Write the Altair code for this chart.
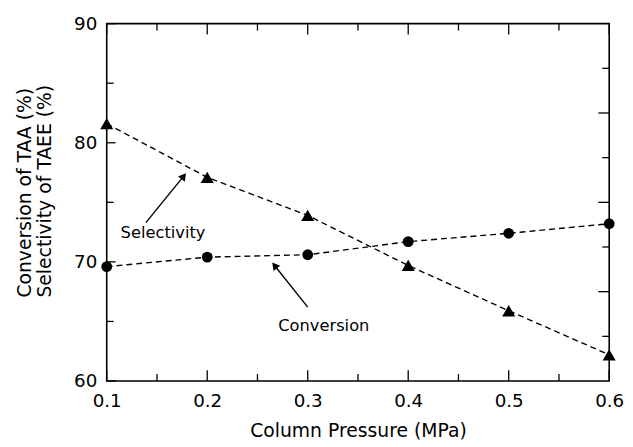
import altair as alt
import pandas as pd

pressure = [0.1, 0.2, 0.3, 0.4, 0.5, 0.6]
selectivity = [81.6, 77.1, 73.9, 69.7, 65.9, 62.2]
conversion = [69.6, 70.4, 70.6, 71.7, 72.4, 73.2]

x_major = [0.1, 0.2, 0.3, 0.4, 0.5, 0.6]
x_minor = [0.15, 0.25, 0.35, 0.45, 0.55]
y_major = [60, 70, 80, 90]
y_minor = [65, 75, 85]
r_major = [67.5, 75, 82.5]
r_minor = [63.75, 71.25, 78.75, 86.25]

ann_text = ["Selectivity", "Conversion"]
ann_tx = [0.156, 0.316]
ann_ty = [72.4, 64.6]
arr_x0 = [0.139, 0.300]
arr_y0 = [73.3, 66.2]
arr_x1 = [0.1766, 0.267]
arr_y1 = [77.2, 69.7]
arr_angle = [38, 321]

FONT = "DejaVu Sans"
W, H = 509, 362

xs = alt.Scale(domain=[0.1, 0.6], nice=False)
ys = alt.Scale(domain=[60, 90], nice=False)

df = pd.DataFrame({"p": pressure, "sel": selectivity, "conv": conversion})

base = alt.Chart(df)

xaxis = alt.Axis(values=x_major, format=".1f", tickSize=0, labelFontSize=18.5,
                 labelFont=FONT, labelColor="black", labelPadding=11,
                 title="Column Pressure (MPa)", titleFont=FONT, titleFontSize=19,
                 titleFontWeight="normal", titleColor="black", titlePadding=12,
                 grid=False, domain=False, labelFlush=False)
yaxis = alt.Axis(values=y_major, tickSize=0, labelFontSize=18.5, labelFont=FONT,
                 labelColor="black", labelPadding=10,
                 title=["Conversion of TAA (%)", "Selectivity of TAEE (%)"],
                 titleFont=FONT, titleFontSize=19, titleFontWeight="normal",
                 titleColor="black", titleAngle=-90, titleAlign="left",
                 titleBaseline="middle", titleX=-83, titleY=277, titleLineHeight=20,
                 grid=False, domain=False, labelFlush=False)

sel_line = base.mark_line(color="black", strokeDash=[6, 4], strokeWidth=1.4, clip=False).encode(
    x=alt.X("p:Q", scale=xs, axis=xaxis),
    y=alt.Y("sel:Q", scale=ys, axis=yaxis),
)
conv_line = base.mark_line(color="black", strokeDash=[6, 4], strokeWidth=1.4, clip=False).encode(
    x=alt.X("p:Q", scale=xs), y=alt.Y("conv:Q", scale=ys))
sel_pts = base.mark_point(shape="triangle-up", filled=True, color="black", opacity=1,
                          size=175, clip=False).encode(
    x=alt.X("p:Q", scale=xs), y=alt.Y("sel:Q", scale=ys))
conv_pts = base.mark_point(shape="circle", filled=True, color="black", opacity=1,
                           size=120, clip=False).encode(
    x=alt.X("p:Q", scale=xs), y=alt.Y("conv:Q", scale=ys))

# ticks (inward)
def xticks(vals, length, top):
    d = pd.DataFrame({"v": vals})
    if top:
        return alt.Chart(d).mark_rule(color="black", strokeWidth=1.3).encode(
            x=alt.X("v:Q", scale=xs), y=alt.value(0), y2=alt.value(length))
    return alt.Chart(d).mark_rule(color="black", strokeWidth=1.3).encode(
        x=alt.X("v:Q", scale=xs), y=alt.value(H), y2=alt.value(H - length))

def yticks(vals, length, right):
    d = pd.DataFrame({"v": vals})
    if right:
        return alt.Chart(d).mark_rule(color="black", strokeWidth=1.3).encode(
            y=alt.Y("v:Q", scale=ys), x=alt.value(W), x2=alt.value(W - length))
    return alt.Chart(d).mark_rule(color="black", strokeWidth=1.3).encode(
        y=alt.Y("v:Q", scale=ys), x=alt.value(0), x2=alt.value(length))

ticks = [
    xticks(x_major, 11, False), xticks(x_minor, 7, False),
    xticks(x_major, 11, True), xticks(x_minor, 7, True),
    yticks(y_major, 9, False), yticks(y_minor, 7, False),
    yticks(r_major, 11, True), yticks(r_minor, 7, True),
]

ann = pd.DataFrame({"t": ann_text, "tx": ann_tx, "ty": ann_ty,
                    "x0": arr_x0, "y0": arr_y0, "x1": arr_x1, "y1": arr_y1,
                    "a": arr_angle})
ann_lbl = alt.Chart(ann).mark_text(font=FONT, fontSize=16.5, color="black",
                                   align="center", baseline="middle").encode(
    x=alt.X("tx:Q", scale=xs), y=alt.Y("ty:Q", scale=ys), text="t:N")
arrows = alt.Chart(ann).mark_rule(color="black", strokeWidth=1.4).encode(
    x=alt.X("x0:Q", scale=xs), y=alt.Y("y0:Q", scale=ys),
    x2="x1:Q", y2="y1:Q")
heads = alt.Chart(ann).mark_point(shape="triangle-up", filled=True, color="black",
                                  opacity=1, size=75).encode(
    x=alt.X("x1:Q", scale=xs), y=alt.Y("y1:Q", scale=ys),
    angle=alt.Angle("a:Q", scale=None))

chart = alt.layer(sel_line, conv_line, sel_pts, conv_pts, arrows, heads, ann_lbl, *ticks).properties(
    width=W, height=H,
    autosize=alt.AutoSizeParams(type="none"),
    padding={"left": 100, "top": 13, "right": 16, "bottom": 64},
    background="white",
).configure_view(stroke="black", strokeWidth=1.6)

chart.save("out.html", embed_options={"renderer": "svg", "actions": False})
